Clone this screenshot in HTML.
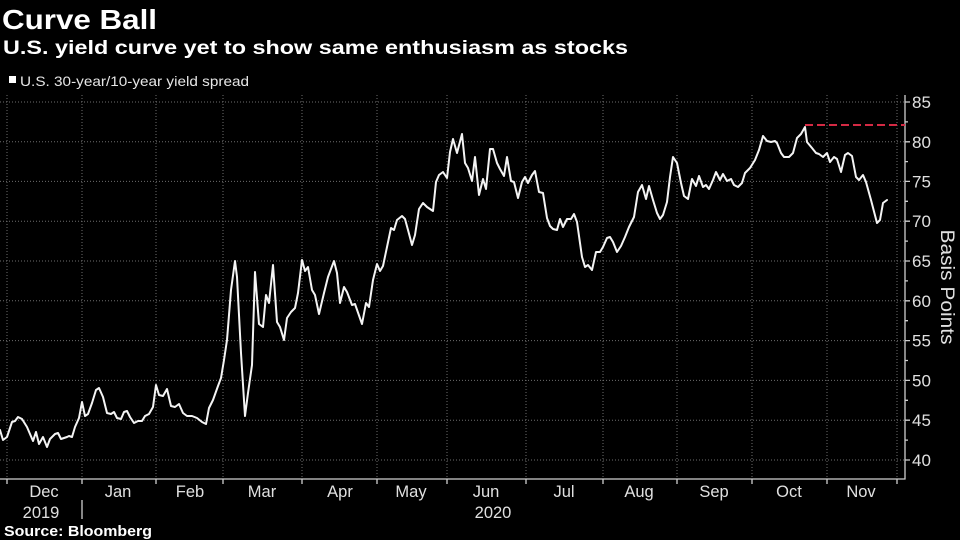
<!DOCTYPE html>
<html><head><meta charset="utf-8"><style>
html,body{margin:0;padding:0;background:#000;}
svg{display:block;}
text{font-family:"Liberation Sans",sans-serif;}
</style></head><body>
<svg width="960" height="540" viewBox="0 0 960 540" xmlns="http://www.w3.org/2000/svg">
<rect width="960" height="540" fill="#000"/>
<text x="2" y="29" font-size="28" font-weight="bold" fill="#fff" textLength="155" lengthAdjust="spacingAndGlyphs">Curve Ball</text>
<text x="3" y="54" font-size="19.5" font-weight="bold" fill="#fff" textLength="625" lengthAdjust="spacingAndGlyphs">U.S. yield curve yet to show same enthusiasm as stocks</text>
<rect x="9" y="76" width="7" height="7" fill="#fff"/>
<text x="20" y="86" font-size="14" fill="#e6e6e6" textLength="229" lengthAdjust="spacingAndGlyphs">U.S. 30-year/10-year yield spread</text>

<g stroke="#6e6e6e" stroke-width="1" stroke-dasharray="1,2" fill="none">
<line x1="0" y1="102" x2="905" y2="102"/>
<line x1="0" y1="141.8" x2="905" y2="141.8"/>
<line x1="0" y1="181.4" x2="905" y2="181.4"/>
<line x1="0" y1="221.2" x2="905" y2="221.2"/>
<line x1="0" y1="261" x2="905" y2="261"/>
<line x1="0" y1="300.8" x2="905" y2="300.8"/>
<line x1="0" y1="340.6" x2="905" y2="340.6"/>
<line x1="0" y1="380.4" x2="905" y2="380.4"/>
<line x1="0" y1="420.2" x2="905" y2="420.2"/>
<line x1="0" y1="460" x2="905" y2="460"/>
<line x1="7" y1="95" x2="7" y2="479"/>
<line x1="82" y1="95" x2="82" y2="479"/>
<line x1="156" y1="95" x2="156" y2="479"/>
<line x1="223" y1="95" x2="223" y2="479"/>
<line x1="302" y1="95" x2="302" y2="479"/>
<line x1="377" y1="95" x2="377" y2="479"/>
<line x1="447" y1="95" x2="447" y2="479"/>
<line x1="526" y1="95" x2="526" y2="479"/>
<line x1="603" y1="95" x2="603" y2="479"/>
<line x1="677" y1="95" x2="677" y2="479"/>
<line x1="752" y1="95" x2="752" y2="479"/>
<line x1="827" y1="95" x2="827" y2="479"/>
<line x1="897" y1="95" x2="897" y2="479"/>
</g>

<g stroke="#cfcfcf" stroke-width="1.3" fill="none">
<line x1="0" y1="479" x2="905.5" y2="479"/>
<line x1="905" y1="95" x2="905" y2="479.5"/>
<path d="M7 479v5M82 479v5M156 479v5M223 479v5M302 479v5M377 479v5M447 479v5M526 479v5M603 479v5M677 479v5M752 479v5M827 479v5M897 479v5"/>
<path d="M905 102h5M905 141.8h5M905 181.4h5M905 221.2h5M905 261h5M905 300.8h5M905 340.6h5M905 380.4h5M905 420.2h5M905 460h5"/>
<path d="M905 121.9h3M905 161.6h3M905 201.3h3M905 241.1h3M905 280.9h3M905 320.7h3M905 360.5h3M905 400.3h3M905 440.1h3"/>
<line x1="82" y1="500" x2="82" y2="519"/>
</g>

<g font-size="17" fill="#e0e0e0">
<text x="912" y="108">85</text>
<text x="912" y="147.8">80</text>
<text x="912" y="187.4">75</text>
<text x="912" y="227.2">70</text>
<text x="912" y="267">65</text>
<text x="912" y="306.8">60</text>
<text x="912" y="346.6">55</text>
<text x="912" y="386.4">50</text>
<text x="912" y="426.2">45</text>
<text x="912" y="466">40</text>
</g>
<text transform="translate(941,287) rotate(90)" text-anchor="middle" font-size="19" fill="#e0e0e0" textLength="115" lengthAdjust="spacingAndGlyphs">Basis Points</text>

<g font-size="16.5" fill="#e0e0e0" text-anchor="middle">
<text x="44" y="497">Dec</text>
<text x="118" y="497">Jan</text>
<text x="190" y="497">Feb</text>
<text x="262" y="497">Mar</text>
<text x="340" y="497">Apr</text>
<text x="411" y="497">May</text>
<text x="486" y="497">Jun</text>
<text x="564" y="497">Jul</text>
<text x="639" y="497">Aug</text>
<text x="714" y="497">Sep</text>
<text x="789" y="497">Oct</text>
<text x="861" y="497">Nov</text>
<text x="41" y="518">2019</text>
<text x="493" y="518">2020</text>
</g>

<line x1="805" y1="125" x2="905" y2="125" stroke="#d42a44" stroke-width="2" stroke-dasharray="8,4"/>

<polyline fill="none" stroke="#f4f4f4" stroke-width="2" stroke-linejoin="round" stroke-linecap="round" points="0,430 3,440 7,437 12,422 15,421 18,417 22,419 27,427 33,441 36,432 39,444 43,437 47,447 50,439 55,434 58,433 61,439 67,437 69,436 72,437 75,427 79,418 82,402 85,416 88,414 92,403 96,390 99,388 103,397 107,413 111,414 114,412 117,418 121,419 124,412 127,411 130,417 134,423 138,421 142,421 145,416 149,414 153,407 156,385 159,395 163,396 167,389 171,406 175,407 179,404 183,413 187,416 192,416 197,418 202,422 206,424 209,408 213,400 218,386 221,378 224,360 227,340 231,290 235,261 237,277 241,353 245,416 248,393 252,365 255,272 259,324 263,327 266,295 269,303 273,265 277,322 280,327 284,340 287,318 291,312 295,308 298,293 302,260 305,271 308,267 312,290 315,295 319,314 324,293 328,277 334,261 337,273 340,303 344,287 347,292 352,305 355,304 362,324 366,303 369,307 373,280 377,264 380,271 383,266 387,247 391,228 394,230 397,220 402,216 405,219 408,230 412,245 415,235 419,209 423,203 427,207 430,209 433,211 436,182 439,175 443,172 447,178 450,152 453,139 457,153 462,134 465,163 468,168 472,181 475,157 479,195 483,179 486,189 490,149 493,149 497,163 500,169 504,176 507,157 511,181 514,182 518,198 522,182 525,177 528,183 532,175 535,171 539,192 543,193 547,218 550,226 553,229 557,230 560,219 563,227 567,219 571,219 574,214 577,222 582,257 585,267 588,265 592,270 596,252 600,252 603,247 607,238 610,237 613,242 617,252 621,246 625,237 629,227 634,217 638,192 642,185 646,199 649,186 653,200 657,213 660,219 663,215 667,202 670,177 673,157 677,163 681,183 684,196 688,199 692,179 696,186 699,176 703,187 706,185 709,189 713,180 716,172 720,180 723,174 727,181 731,179 734,185 738,187 742,183 745,173 750,168 755,160 759,150 763,136 767,141 771,142 775,141 777,143 781,153 784,157 789,157 793,153 797,138 801,134 805,127 807,142 812,148 816,153 819,154 823,157 827,153 830,162 834,157 837,159 841,172 845,155 848,153 852,156 856,177 859,180 863,175 866,182 871,200 877,223 880,220 883,203 887,200"/>

<text x="4" y="536" font-size="15" font-weight="bold" fill="#fff" textLength="148" lengthAdjust="spacingAndGlyphs">Source: Bloomberg</text>
</svg>
</body></html>
